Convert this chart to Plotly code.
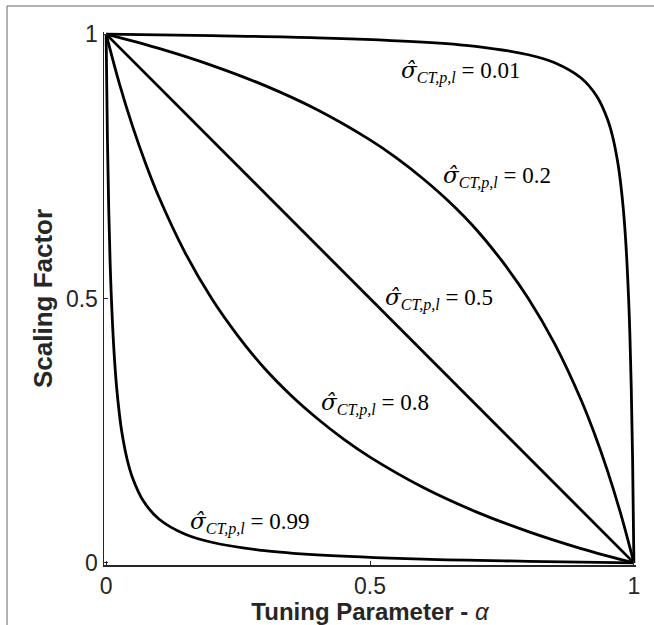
import plotly.graph_objects as go

# ---- data ----
alpha_s001 = [0, 0.2, 0.4, 0.6, 0.7, 0.8, 0.85, 0.9, 0.93, 0.95, 0.96, 0.97, 0.975, 0.98, 0.985, 0.99, 0.9925, 0.995, 0.9975, 1]
scale_s001 = [1, 0.997, 0.993, 0.985, 0.977, 0.961, 0.946, 0.917, 0.882, 0.839, 0.805, 0.754, 0.717, 0.669, 0.601, 0.5, 0.428, 0.332, 0.199, 0]

alpha_s02 = [0, 0.1, 0.2, 0.3, 0.4, 0.5, 0.55, 0.6, 0.65, 0.7, 0.75, 0.8, 0.85, 0.9, 0.925, 0.95, 0.975, 1]
scale_s02 = [1, 0.973, 0.941, 0.903, 0.857, 0.8, 0.766, 0.727, 0.683, 0.632, 0.571, 0.5, 0.414, 0.308, 0.245, 0.174, 0.093, 0]

alpha_s05 = [0, 0.5, 1]
scale_s05 = [1, 0.5, 0]

alpha_s08 = [0, 0.025, 0.05, 0.075, 0.1, 0.15, 0.2, 0.25, 0.3, 0.35, 0.4, 0.45, 0.5, 0.6, 0.7, 0.8, 0.9, 1]
scale_s08 = [1, 0.907, 0.826, 0.755, 0.692, 0.586, 0.5, 0.429, 0.368, 0.317, 0.273, 0.234, 0.2, 0.143, 0.097, 0.059, 0.027, 0]

alpha_s099 = [0, 0.0025, 0.005, 0.0075, 0.01, 0.015, 0.02, 0.025, 0.03, 0.04, 0.05, 0.07, 0.1, 0.15, 0.2, 0.3, 0.4, 0.6, 0.8, 1]
scale_s099 = [1, 0.801, 0.668, 0.572, 0.5, 0.399, 0.331, 0.283, 0.246, 0.195, 0.161, 0.118, 0.083, 0.054, 0.039, 0.023, 0.015, 0.007, 0.003, 0]

series_names = ["0.01", "0.2", "0.5", "0.8", "0.99"]
series_alpha = [alpha_s001, alpha_s02, alpha_s05, alpha_s08, alpha_s099]
series_scale = [scale_s001, scale_s02, scale_s05, scale_s08, scale_s099]

# label anchor points (data coordinates) for each curve label
label_x = [0.672, 0.740, 0.630, 0.510, 0.272]
label_y = [0.929, 0.729, 0.499, 0.300, 0.076]

tick_vals = [0, 0.5, 1]
tick_text = ["0", "0.5", "1"]

fig = go.Figure()
for name, a, s in zip(series_names, series_alpha, series_scale):
    fig.add_trace(go.Scatter(
        x=a, y=s, mode="lines", name=name,
        line=dict(color="black", width=2.8, shape="spline", smoothing=1.0),
        showlegend=False, hoverinfo="skip",
    ))

for name, lx, ly in zip(series_names, label_x, label_y):
    fig.add_annotation(
        x=lx, y=ly, xref="x", yref="y",
        text=("<span style='font-family:DejaVu Serif'><i>σ̂</i></span>"
              "<sub><i>CT,p,l</i></sub> = " + name),
        showarrow=False, xanchor="center", yanchor="middle",
        font=dict(family="Liberation Serif", size=23, color="black"),
    )

axis_common = dict(
    showgrid=False, zeroline=False, showline=True,
    linecolor="#262626", linewidth=1.5, mirror=False,
    ticks="inside", ticklen=4, tickwidth=1, tickcolor="#262626",
    tickvals=tick_vals, ticktext=tick_text,
    tickfont=dict(family="Liberation Sans", size=23, color="#262626"),
    range=[-0.004, 1.004], fixedrange=True, automargin=False,
)

fig.update_xaxes(**axis_common,
                 title=dict(text="<b>Tuning Parameter - </b><i>α</i>", standoff=5,
                            font=dict(family="Liberation Sans", size=24, color="#262626")))
fig.update_yaxes(**axis_common,
                 title=dict(text="<b>Scaling Factor</b>", standoff=6,
                            font=dict(family="Liberation Sans", size=26, color="#262626")))

# partial outer frame of the figure (top and left edges)
fig.add_shape(type="line", xref="paper", yref="paper",
              x0=-0.1823, x1=1.1, y0=1.0488, y1=1.0488,
              line=dict(color="#666666", width=1))
fig.add_shape(type="line", xref="paper", yref="paper",
              x0=-0.1823, x1=-0.1823, y0=1.0488, y1=-0.2,
              line=dict(color="#666666", width=1))

fig.update_layout(
    width=654, height=625,
    margin=dict(l=104, r=18, t=32, b=60, pad=0, autoexpand=False),
    paper_bgcolor="white", plot_bgcolor="white",
)

fig.write_html("out.html",
               config={"displayModeBar": False, "staticPlot": True},
               post_script="document.body.style.margin='0px';document.body.style.overflow='hidden';")
